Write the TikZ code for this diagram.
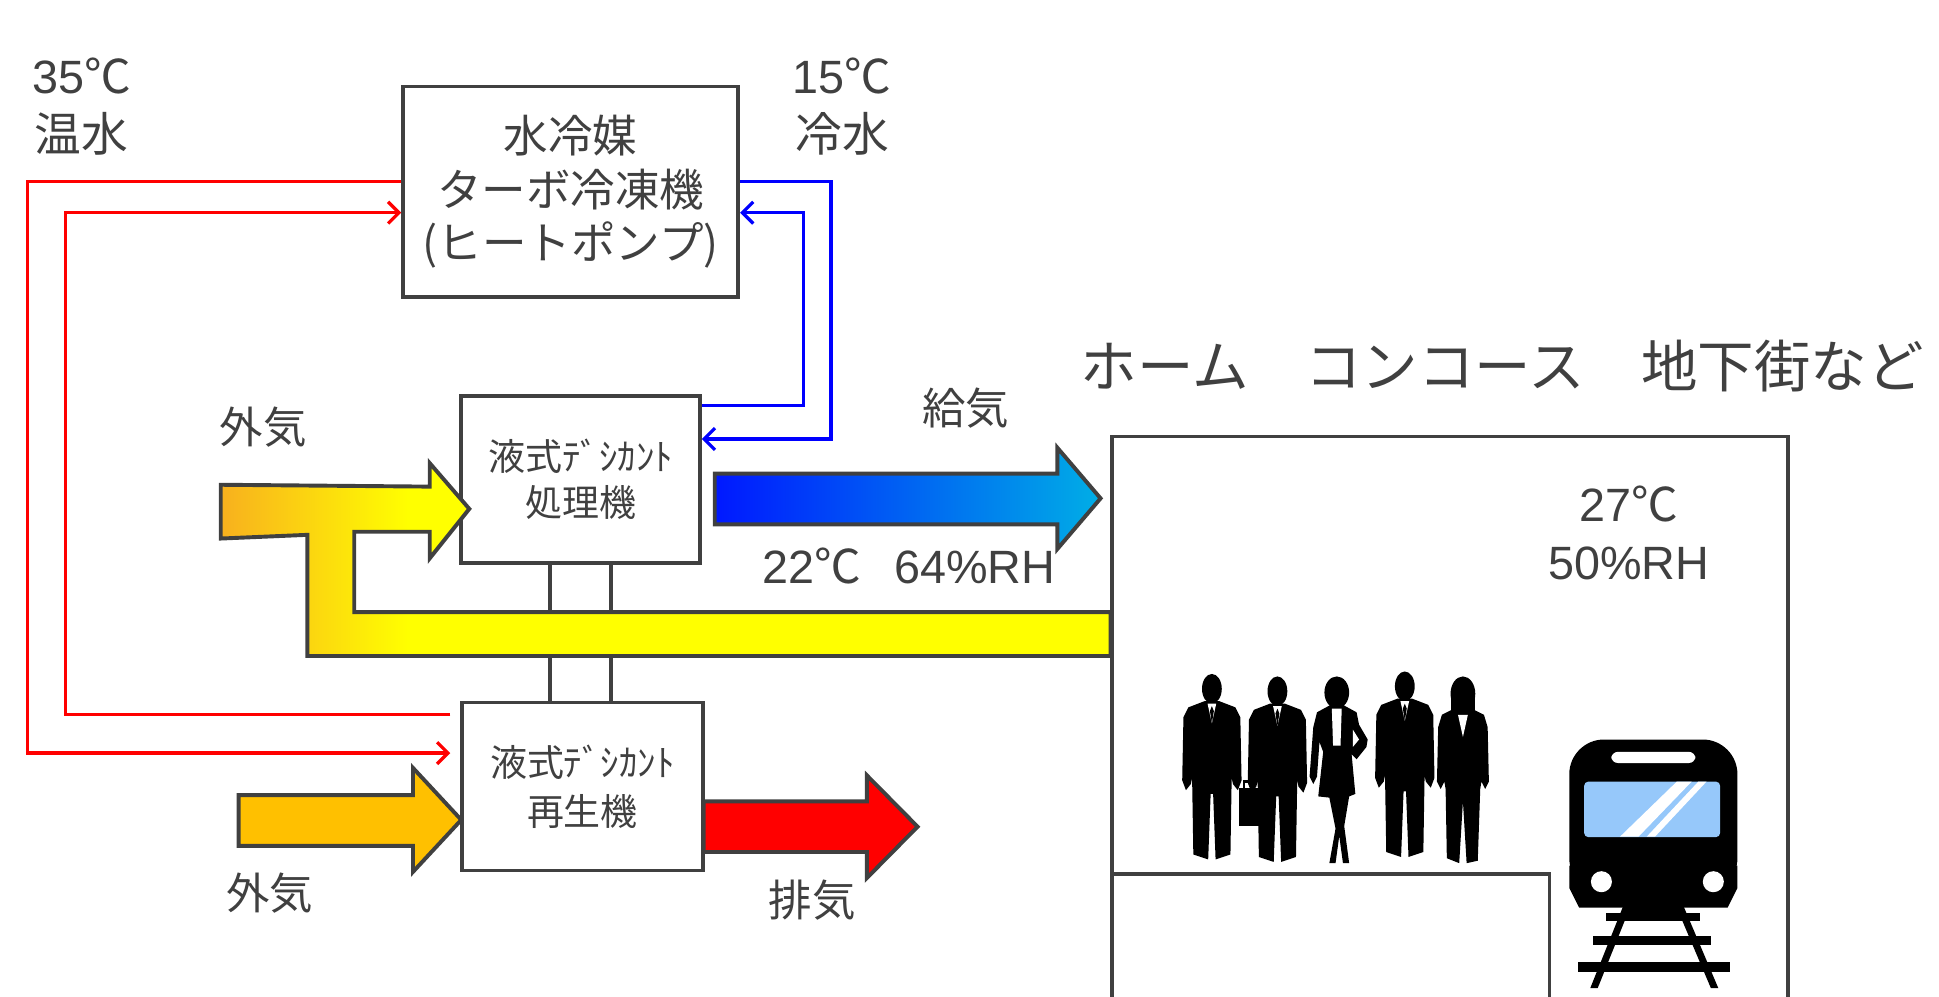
\documentclass[tikz,border=0pt]{standalone}
\usepackage{fontspec}
\setmainfont{Noto Sans CJK JP}
\newfontfamily\numfont{Liberation Sans}
\usetikzlibrary{arrows.meta}

\definecolor{ink}{RGB}{64,64,64}
\definecolor{airorange}{RGB}{248,176,30}
\definecolor{airpeach}{RGB}{242,192,112}
\definecolor{airyellow}{RGB}{255,255,0}
\definecolor{intake}{RGB}{255,192,0}
\definecolor{supplyL}{RGB}{0,24,255}
\definecolor{supplyR}{RGB}{0,174,230}
\definecolor{glass}{RGB}{150,200,250}

\tikzset{
  suit/.pic={
    \fill (0,12) ellipse (8 and 12);
    \fill (-6,22) -- (-19,27) -- (-23,35) -- (-24,86) -- (-21,94) -- (-17,89) -- (-16,84)
      -- (-15,146) -- (-3,150) -- (-1,97) -- (1,97) -- (3,150) -- (15,146) -- (16,84)
      -- (17,89) -- (21,94) -- (24,86) -- (23,35) -- (19,27) -- (6,22) -- cycle;
    \fill[white] (-3.5,24) -- (3.5,24) -- (0,40) -- cycle;
    \fill (0,26) -- (-1.6,30) -- (0,40) -- (1.6,30) -- cycle;
  },
  skirt/.pic={
    \fill (0,12) ellipse (10 and 13);
    \fill (-5,22) -- (-16,28) -- (-19,40) -- (-22,80) -- (-19,86) -- (-16,80) -- (-14,52)
      -- (-11,60) -- (-15,96) -- (-6,97) -- (-1,122) -- (-6,150) -- (-1,150) -- (2,128)
      -- (5,150) -- (10,150) -- (6,120) -- (10,96) -- (15,94) -- (12,62) -- (16,66)
      -- (24,56) -- (25,50) -- (18,38) -- (16,28) -- (5,22) -- cycle;
    \fill[white] (-4,25) -- (4,25) -- (3,55) -- (-3,55) -- cycle;
    \fill[white] (13,42) -- (18,50) -- (13,56) -- cycle;
  },
  pantsuit/.pic={
    \fill (0,13) ellipse (10 and 14);
    \fill (-10,12) rectangle (10,30);
    \fill (-5,24) -- (-17,30) -- (-20,40) -- (-21,84) -- (-18,90) -- (-15,84) -- (-14,90)
      -- (-13,146) -- (-3,150) -- (0,100) -- (3,150) -- (12,148) -- (14,90) -- (15,84)
      -- (18,90) -- (21,84) -- (20,40) -- (17,30) -- (5,24) -- cycle;
    \fill[white] (-4,30) -- (4,30) -- (0,48) -- cycle;
  }
}

\begin{document}
\begin{tikzpicture}[x=0.2mm,y=-0.2mm,
  machine/.style={draw=ink,line width=1.7pt,fill=white,text=ink,align=center,inner sep=0pt},
  lbl/.style={text=ink,align=center,inner sep=0pt,font=\fontsize{20}{26.5}\selectfont},
  numlbl/.style={lbl,font=\fontsize{21.5}{26.5}\selectfont},
  hot/.style={red,line width=1.5pt},
  cold/.style={blue,line width=1.5pt},
  wall/.style={draw=ink,line width=1.7pt},
  flow/.style={draw=ink,line width=1.8pt,line join=miter},
  >={Straight Barb[length=5pt,width=10pt]}
]
\useasboundingbox (0,0) rectangle (1568,806);

% machines
\node[machine,minimum width=54.2mm,minimum height=34mm,
      font=\fontsize{20.5}{24.5}\selectfont] (chiller) at (461.5,155)
      {水冷媒\\ターボ冷凍機\\(ヒートポンプ)};
\node[machine,minimum width=38.6mm,minimum height=27mm,
      font=\fontsize{17}{21.5}\selectfont] (proc) at (469.5,387.5)
      {液式ﾃﾞｼｶﾝﾄ\\処理機};
\node[machine,minimum width=39mm,minimum height=27.2mm,
      font=\fontsize{17}{23.5}\selectfont] (regen) at (471,636)
      {\raisebox{-3pt}{液式ﾃﾞｼｶﾝﾄ}\\[2pt]再生機};

% hot water loop
\draw[hot,->,shorten >=4.5pt] (chiller.west |- 0,147) -- (22,147) -- (22,609) -- (regen.west |- 0,609);
\draw[hot,->,shorten <=4.5pt] (regen.west |- 0,578) -- (53,578) -- (53,172) -- (chiller.west |- 0,172);
% chilled water loop
\draw[cold,->] (chiller.east |- 0,147) -- (672,147) -- (672,355) -- (proc.east |- 0,355);
\draw[cold,->] (proc.east |- 0,328) -- (650,328) -- (650,172) -- (chiller.east |- 0,172);

% solution lines between the two units
\draw[wall] (proc.south -| 445,0) -- (regen.north -| 445,0);
\draw[wall] (proc.south -| 494,0) -- (regen.north -| 494,0);

% outside air and return air into the processor
\draw[flow,path picture={
    \fill[airyellow] (150,350) rectangle (920,560);
    \shade[left color=airorange,middle color=airpeach,right color=airyellow] (178,350) rectangle (330,560);
  }]
  (178.5,392) -- (347.5,393.5) -- (347.5,374.5) -- (379.5,411.5) -- (347.5,451.5) -- (347.5,430)
  -- (286.5,430) -- (286.5,495) -- (898,495) -- (898,530.5) -- (248.5,530.5) -- (248.5,432.5)
  -- (178.5,435.5) -- cycle;

% supply air
\shadedraw[flow,left color=supplyL,right color=supplyR]
  (578,383) -- (855,383) -- (855,362) -- (890,403) -- (855,444) -- (855,424) -- (578,424) -- cycle;
% outside air into the regenerator, exhaust out
\filldraw[flow,fill=intake]
  (193,643) -- (334,643) -- (334,621) -- (373,663) -- (334,705) -- (334,684) -- (193,684) -- cycle;
\filldraw[flow,fill=red]
  (569,648) -- (701,648) -- (701,627) -- (742,668.5) -- (701,710) -- (701,689) -- (569,689) -- cycle;

% station space
\draw[wall] (899,812) -- (899,353) -- (1446,353) -- (1446,812);
\draw[wall] (899,707) -- (1253,707) -- (1253,812);

% labels
\node[numlbl] (hotT) at (66,86) {{\numfont 35}℃\\温水};
\node[numlbl] (coldT) at (681,86) {{\numfont 15}℃\\冷水};
\node[lbl] (oaIn) at (213,345) {外気};
\node[lbl] (oaReg) at (218,722) {外気};
\node[lbl] (sa) at (781,330) {給気};
\node[lbl] (ea) at (657,728) {排気};
\node[numlbl] (saState) at (735,458) {{\numfont 22}℃\hspace{0.7em}{\numfont 64\%RH}};
\node[numlbl] (roomState) at (1317,431) {{\numfont 27}℃\\{\numfont 50\%RH}};
\node[lbl,font=\fontsize{26}{30}\selectfont] (title) at (1215,296) {ホーム　コンコース　地下街など};

% passengers
\pic at (980,545) {suit};
\pic at (1033,547) {suit};
\fill (1002,637) rectangle (1018,668);
\draw[line width=1.2pt] (1006,637) -- (1006,632) -- (1014,632) -- (1014,637);
\pic at (1081,548) {skirt};
\pic at (1136,543) {suit};
\pic at (1183,548) {pantsuit};

% train
\fill[rounded corners=16] (1269,598) rectangle (1405,722);
\fill (1269,700) -- (1405,700) -- (1405,718) -- (1397,734) -- (1277,734) -- (1269,718) -- cycle;
\fill[white,rounded corners=3] (1303,608) rectangle (1371,617);
\fill[glass,rounded corners=2] (1281,632) rectangle (1391,677);
\fill[white] (1310,676.6) -- (1325,676.6) -- (1368,632) -- (1356,632) -- cycle;
\fill[white] (1331.6,676.6) -- (1338.3,676.6) -- (1380,632) -- (1373.4,632) -- cycle;
\fill[white] (1295,713) circle (8.5);
\fill[white] (1385.5,713) circle (8.5);
\fill (1312.5,730) rectangle (1361.5,738);
\fill (1312.5,733) -- (1318.5,733) -- (1292,799) -- (1286,799) -- cycle;
\fill (1355.5,733) -- (1361.5,733) -- (1389.5,799) -- (1383.5,799) -- cycle;
\fill (1299,738) rectangle (1375,745);
\fill (1288.5,756.5) rectangle (1384,764);
\fill (1276,778) rectangle (1399,786);
\end{tikzpicture}
\end{document}
